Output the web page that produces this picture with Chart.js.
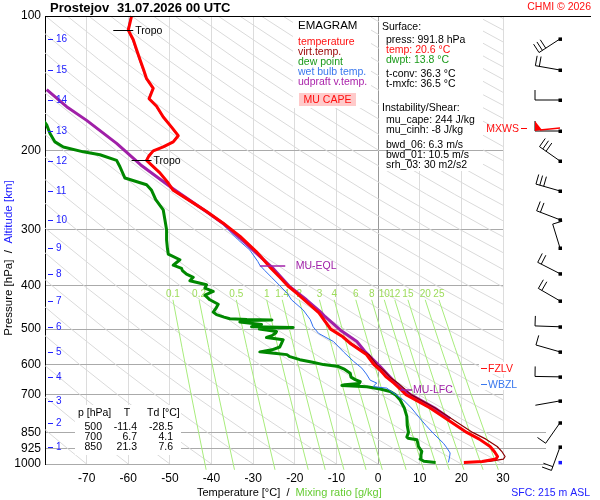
<!DOCTYPE html>
<html>
<head>
<meta charset="utf-8">
<script src="https://cdn.jsdelivr.net/npm/chart.js@4.4.1/dist/chart.umd.min.js"></script>
<style>
  html, body { margin: 0; padding: 0; background: #fff; }
</style>
</head>
<body>
<canvas id="graphic" width="600" height="500"></canvas>
<script>
// sounding values (pressure hPa / temperature degC)
const tempP = [991.8, 987, 975, 962, 940, 914, 880, 850, 800, 750, 700, 680, 660, 640, 620, 600, 570, 540, 520, 500, 480, 460, 440, 416, 400, 383, 365, 350, 336, 310, 290, 273, 255, 245, 236, 224, 216, 210, 205, 200, 196, 191, 185, 177, 168, 159, 153, 145, 138, 132, 125, 119, 113, 107.5, 100];
const tempT = [20.6, 25.0, 28.3, 28.7, 28.0, 26.9, 24.3, 21.3, 17.0, 12.5, 6.7, 5.3, 3.8, 2.0, 0.7, -1.0, -2.8, -6.5, -8.5, -11.4, -12.8, -14.2, -16.5, -19.5, -21.7, -23.6, -25.8, -27.5, -29.2, -33.2, -37.2, -41.2, -46.2, -49.2, -50.4, -52.4, -54.2, -55.6, -55.0, -54.0, -51.6, -49.2, -48.0, -49.6, -51.6, -53.2, -55.0, -54.0, -55.6, -56.3, -57.2, -58.0, -58.8, -60.0, -59.2];

const tvP = [991.8, 987, 975, 962, 940, 914, 880, 850, 800, 750, 700, 680, 660, 640, 620, 600, 570, 540, 520, 500, 460, 416];
const tvT = [22.4, 26.8, 30.1, 30.5, 29.8, 28.6, 25.9, 22.7, 18.3, 13.7, 7.9, 6.4, 4.8, 2.9, 1.5, -0.3, -2.2, -6.1, -8.3, -11.2, -14.1, -19.4];

const dewP = [991.8, 986, 975, 955, 937, 915, 895, 883, 876, 870, 850, 820, 783, 750, 720, 700, 689, 680, 672, 668, 665, 661, 655, 648, 640, 627, 615, 606, 600, 592, 585, 576, 570, 566, 562, 556, 548, 538, 528, 522, 517, 510, 506, 500, 497, 496, 494, 488, 482, 478, 477, 476, 474, 470, 464, 458, 450, 440, 430, 420, 412, 405, 398, 390, 383, 377, 370, 366, 360, 350, 340, 330, 316, 300, 285, 271, 257, 245, 238, 230, 217, 210, 204, 201, 196, 191, 183, 175, 168];
const dewT = [13.8, 11.0, 10.1, 10.3, 10.5, 9.7, 9.5, 9.3, 7.2, 6.9, 7.3, 7.0, 6.9, 6.3, 5.3, 4.1, 2.9, 0.5, -2.7, -8.7, -8.0, -4.5, -4.3, -5.5, -6.5, -6.7, -8.0, -9.5, -13.1, -16.0, -18.8, -21.2, -21.9, -25.0, -28.4, -25.5, -23.6, -23.2, -22.8, -26.8, -25.5, -24.6, -24.4, -28.5, -27.6, -20.4, -30.4, -28.0, -33.2, -31.0, -25.5, -31.5, -35.6, -37.0, -38.8, -39.6, -39.0, -38.4, -40.4, -41.6, -39.6, -41.6, -41.2, -45.2, -44.4, -46.0, -47.0, -47.2, -49.2, -47.6, -50.4, -50.6, -50.8, -50.8, -51.2, -51.6, -53.4, -54.4, -55.6, -60.8, -62.0, -62.8, -66.8, -70.8, -75.6, -77.6, -78.8, -79.6, -81.0];

const wbP = [991.8, 960, 945, 920, 899, 855, 820, 792, 750, 720, 700, 685, 677, 672, 665, 660, 650, 630, 611, 590, 562, 533, 511, 494, 476, 453, 430, 416, 400, 383, 370, 360, 353, 333, 316, 300, 290, 273, 245, 236, 224, 216, 210, 205, 200, 196, 191, 185, 177, 168, 159, 153, 145, 138, 132, 125, 119, 113, 107.5, 100];
const wbT = [16.9, 17.2, 17.3, 16.5, 15.7, 13.3, 11.5, 10.1, 8.0, 6.1, 4.3, 2.8, 2.1, -1.1, -0.8, -0.3, -1.9, -2.8, -3.9, -5.9, -8.3, -10.7, -14.3, -15.6, -16.3, -18.0, -20.8, -21.8, -23.6, -25.6, -27.2, -28.4, -28.9, -30.8, -33.6, -36.0, -37.6, -41.6, -49.4, -50.6, -52.6, -54.4, -55.8, -55.2, -54.2, -51.8, -49.4, -48.2, -49.8, -51.8, -53.4, -55.2, -54.2, -55.8, -56.5, -57.4, -58.2, -59.0, -60.2, -59.4];

// most unstable parcel (updraft virtual temperature)
const upP = [792, 750, 700, 684, 650, 606, 560, 533, 502, 469, 457, 430, 402, 366, 340, 313, 290, 273.5, 242, 215, 192.5, 171, 159.4, 146];
const upT = [17.3, 13.6, 7.8, 6.1, 3.6, 0.5, -3.2, -5.1, -9.1, -12.7, -13.9, -17.2, -21.2, -25.2, -29.0, -33.2, -37.3, -41.2, -49.5, -57.0, -62.8, -70.0, -74.8, -79.6];

const lfcP = 684, eqlP = 362, fzlvP = 610, wbzlP = 663, sfcP = 991.8;
const tropoP = [107.5, 209.7];
const tropoT = [-60.0, -55.6];

// axes
const pTicks = [100, 200, 300, 400, 500, 600, 700, 850, 925, 1000];
const altKm = [1, 2, 3, 4, 5, 6, 7, 8, 9, 10, 11, 12, 13, 14, 15, 16];
const altP = [916, 809, 723, 639, 562, 494, 432.5, 376, 329.5, 285, 245.8, 210.7, 180.6, 154, 132, 112.5];

// winds at each km (direction deg, speed in barb units: 10 = full barb)
const windDir = [200, 215, 260, 271, 286, 272, 300, 297, 343, 291, 286, 305, 270, 270, 280, 237];
const windSpd = [20, 10, 0, 10, 10, 10, 20, 20, 10, 20, 30, 30, 10, 10, 20, 30];
const maxWindKm = 13;

// background reference lines
const mixValues = [0.1, 0.2, 0.5, 1, 1.4, 2, 3, 4, 6, 8, 10, 12, 15, 20, 25];
const mixLevels = [1030, 1000, 850, 700, 550, 430];
const adiabatTheta = [-80, -70, -60, -50, -40, -30, -20, -10, 0, 10, 20, 30, 40, 50, 60, 70, 80, 90, 100, 110, 120, 130, 140, 150, 160, 170, 180, 190, 200, 210, 220, 230, 240, 250, 260, 270, 280, 290, 300, 310, 320];
const adiabatLevels = [1050, 1000, 925, 850, 700, 600, 500, 400, 300, 250, 200, 150, 125, 100];

const FONT = "'Liberation Sans', Arial, sans-serif";

function mixLineTemp(w, p) {
  const e = w * p / (622 + w);
  const l = Math.log(e / 6.112);
  return 243.5 * l / (17.67 - l);
}

function profile(label, p, t, color, width) {
  return {
    label: label,
    data: p.map((v, i) => ({ x: t[i], y: v })),
    borderColor: color,
    borderWidth: width,
    borderJoinStyle: 'round',
    pointRadius: 0,
    fill: false,
    clip: { left: 0, top: 2, right: 8, bottom: 4 }
  };
}

const datasets = [
  profile('temperature', tempP, tempT, '#ff0000', 3),
  profile('virt.temp.', tvP, tvT, '#8b0000', 1.2),
  profile('updraft', upP, upT, '#a020a8', 3),
  profile('wet bulb', wbP, wbT, '#2f6ff0', 1),
  profile('dew point', dewP, dewT, '#008800', 3)
];

// MU CAPE area between parcel and environment
const capeUp = upP.map((p, i) => ({ x: upT[i], y: p })).filter(d => d.y <= lfcP && d.y >= eqlP);
const capeEnv = tempP.map((p, i) => ({ x: tempT[i], y: p })).filter(d => d.y <= lfcP && d.y >= eqlP).reverse();
const capeIndex = datasets.length;
datasets.push({
  label: 'cape',
  data: capeUp.concat(capeEnv),
  borderColor: 'rgba(0,0,0,0)',
  borderWidth: 1,
  pointRadius: 0,
  backgroundColor: 'rgba(255,60,60,0.2)',
  fill: 'shape'
});

mixValues.forEach(w => {
  datasets.push({
    label: 'w' + w,
    data: mixLevels.map(p => ({ x: mixLineTemp(w, p), y: p })),
    borderColor: '#a8ec7c',
    borderWidth: 1,
    pointRadius: 0,
    fill: false,
    clip: { left: 0, top: 0, right: 0, bottom: 6 }
  });
});

adiabatTheta.forEach(th => {
  datasets.push({
    label: 'th' + th,
    data: adiabatLevels.map(p => ({ x: (th + 273.15) * Math.pow(p / 1000, 0.2857) - 273.15, y: p })),
    borderColor: '#dadada',
    borderWidth: 1,
    pointRadius: 0,
    fill: false
  });
});

function text(ctx, s, x, y, color, size, align, weight) {
  ctx.font = (weight || '') + ' ' + size + 'px ' + FONT;
  ctx.fillStyle = color;
  ctx.textAlign = align || 'left';
  ctx.textBaseline = 'middle';
  ctx.fillText(s, x, y);
}

function drawBarb(ctx, x, y, dir, spd) {
  const rad = dir * Math.PI / 180;
  const dx = Math.sin(rad), dy = -Math.cos(rad);
  const bx = -dy, by = dx;
  const L = 25;
  ctx.beginPath();
  ctx.moveTo(x, y);
  ctx.lineTo(x + dx * L, y + dy * L);
  let s = spd, pos = 0;
  while (s >= 7.5) {
    const px = x + dx * (L - pos * 4), py = y + dy * (L - pos * 4);
    ctx.moveTo(px, py);
    ctx.lineTo(px + bx * 10, py + by * 10);
    s -= 10; pos++;
  }
  if (s >= 2.5) {
    const px = x + dx * (L - pos * 4), py = y + dy * (L - pos * 4);
    ctx.moveTo(px, py);
    ctx.lineTo(px + bx * 5, py + by * 5);
  }
  ctx.stroke();
  ctx.fillRect(x - 1.5, y - 1.5, 3.5, 3.5);
}

const sketch = {
  id: 'sketch',
  beforeDatasetDraw(chart, args) {
    if (args.index !== capeIndex) return;
    const ctx = chart.ctx, xs = chart.scales.x, ys = chart.scales.y;
    ctx.save();
    // mixing ratio labels
    mixValues.forEach(w => {
      const x = xs.getPixelForValue(mixLineTemp(w, 430));
      text(ctx, String(w), x, ys.getPixelForValue(430) - 6, '#9ddc5a', 10, 'center');
    });
    // panels
    ctx.fillStyle = '#fff';
    ctx.fillRect(293, 17, 78, 91);
    ctx.fillRect(379, 17, 104, 154);
    ctx.fillRect(75, 405, 106, 50);
    ctx.save();
    ctx.beginPath();
    ctx.rect(379, 17, 104, 154);
    ctx.clip();
    ctx.strokeStyle = '#aaa';
    ctx.lineWidth = 1;
    pTicks.forEach(p => {
      const y = Math.floor(ys.getPixelForValue(p)) + 0.5;
      ctx.beginPath(); ctx.moveTo(379, y); ctx.lineTo(483, y); ctx.stroke();
    });
    ctx.restore();

    // legend panel
    text(ctx, 'EMAGRAM', 298, 26, '#000', 11.5);
    text(ctx, 'temperature', 298, 42, '#ff1010', 10.5);
    text(ctx, 'virt.temp.', 298, 52, '#990000', 10.5);
    text(ctx, 'dew point', 298, 62, '#1a9a1a', 10.5);
    text(ctx, 'wet bulb temp.', 298, 72, '#3a78ee', 10.5);
    text(ctx, 'udpraft v.temp.', 298, 82, '#aa22aa', 10.5);
    ctx.fillStyle = 'rgba(255,80,80,0.3)';
    ctx.fillRect(299, 93, 57, 13);
    text(ctx, 'MU CAPE', 327.5, 100, '#ff1010', 10.5, 'center');

    // surface / instability panel
    text(ctx, 'Surface:', 382, 27, '#000', 10.5);
    text(ctx, 'press: 991.8 hPa', 386, 40, '#000', 10.5);
    text(ctx, 'temp: 20.6 \u00b0C', 386, 50, '#ff1010', 10.5);
    text(ctx, 'dwpt: 13.8 \u00b0C', 386, 60, '#1a9a1a', 10.5);
    text(ctx, 't-conv: 36.3 \u00b0C', 386, 74, '#000', 10.5);
    text(ctx, 't-mxfc: 36.5 \u00b0C', 386, 84, '#000', 10.5);
    text(ctx, 'Instability/Shear:', 382, 108, '#000', 10.5);
    text(ctx, 'mu_cape: 244 J/kg', 386, 120, '#000', 10.5);
    text(ctx, 'mu_cinh: -8 J/kg', 386, 130, '#000', 10.5);
    text(ctx, 'bwd_06: 6.3 m/s', 386, 145, '#000', 10.5);
    text(ctx, 'bwd_01: 10.5 m/s', 386, 155, '#000', 10.5);
    text(ctx, 'srh_03: 30 m2/s2', 386, 165, '#000', 10.5);

    // standard level table
    text(ctx, 'p [hPa]', 78, 413, '#000', 10.5);
    text(ctx, 'T', 127, 413, '#000', 10.5, 'center');
    text(ctx, 'Td [\u00b0C]', 147, 413, '#000', 10.5);
    const rows = [['500', '-11.4', '-28.5'], ['700', '6.7', '4.1'], ['850', '21.3', '7.6']];
    rows.forEach((r, i) => {
      const y = 427 + i * 10;
      text(ctx, r[0], 102, y, '#000', 10.5, 'right');
      text(ctx, r[1], 137, y, '#000', 10.5, 'right');
      text(ctx, r[2], 173, y, '#000', 10.5, 'right');
    });
    ctx.restore();
  },
  afterDatasetsDraw(chart) {
    const ctx = chart.ctx, xs = chart.scales.x, ys = chart.scales.y;
    ctx.save();
    ctx.lineWidth = 1;
    // tropopause marks
    tropoP.forEach((p, i) => {
      const x = xs.getPixelForValue(tropoT[i]), y = Math.round(ys.getPixelForValue(p)) + 0.5;
      ctx.strokeStyle = '#000';
      ctx.beginPath(); ctx.moveTo(x - 15, y); ctx.lineTo(x + 5, y); ctx.stroke();
      text(ctx, 'Tropo', x + 7, y + 1, '#000', 10.5);
    });
    // parcel levels
    ctx.strokeStyle = '#a020a8';
    ctx.lineWidth = 1.5;
    let y = Math.round(ys.getPixelForValue(eqlP));
    ctx.beginPath(); ctx.moveTo(xs.getPixelForValue(-28.4), y); ctx.lineTo(xs.getPixelForValue(-22.3), y); ctx.stroke();
    text(ctx, 'MU-EQL', xs.getPixelForValue(-19.8), y, '#a020a8', 10.5);
    y = Math.round(ys.getPixelForValue(lfcP));
    ctx.beginPath(); ctx.moveTo(xs.getPixelForValue(5.3), y); ctx.lineTo(xs.getPixelForValue(8.2), y); ctx.stroke();
    text(ctx, 'MU-LFC', xs.getPixelForValue(8.4), y, '#a020a8', 10.5);

    // freezing / wet bulb zero levels
    [[fzlvP, 'FZLV', '#ff1010'], [wbzlP, 'WBZL', '#3a78ee']].forEach(l => {
      const yy = Math.round(ys.getPixelForValue(l[0]));
      ctx.fillStyle = 'rgba(255,255,255,0.95)';
      ctx.fillRect(479, yy - 6, 43, 12);
      ctx.strokeStyle = l[2];
      ctx.lineWidth = 1;
      ctx.beginPath(); ctx.moveTo(481, yy + 0.5); ctx.lineTo(487, yy + 0.5); ctx.stroke();
      text(ctx, l[1], 488, yy + 1, l[2], 10.5);
    });

    // altitude scale
    ctx.strokeStyle = '#2020ff';
    altKm.forEach((km, i) => {
      const yy = Math.round(ys.getPixelForValue(altP[i])) + 0.5;
      ctx.beginPath(); ctx.moveTo(48, yy); ctx.lineTo(53, yy); ctx.stroke();
      text(ctx, String(km), 56, yy, '#2020ff', 10);
    });
    ctx.restore();
  },
  afterDraw(chart) {
    const ctx = chart.ctx, ys = chart.scales.y, area = chart.chartArea;
    ctx.save();
    // frame line on top
    ctx.strokeStyle = '#000';
    ctx.lineWidth = 1;
    ctx.beginPath(); ctx.moveTo(area.left, area.top + 0.5); ctx.lineTo(591, area.top + 0.5); ctx.stroke();
    // low level lines reaching the wind column
    ctx.strokeStyle = '#aaa';
    [850, 925, 1000].forEach(p => {
      const y = Math.floor(ys.getPixelForValue(p)) + 0.5;
      ctx.beginPath(); ctx.moveTo(area.right, y); ctx.lineTo(546, y); ctx.stroke();
    });

    // titles
    text(ctx, 'Prostejov', 50, 8, '#000', 13, 'left', 'bold');
    text(ctx, '31.07.2026 00 UTC', 117, 8, '#000', 13, 'left', 'bold');
    text(ctx, 'CHMI \u00a9 2026', 591, 7, '#ff1010', 10.5, 'right');
    text(ctx, 'SFC: 215 m ASL', 590, 493, '#2020ff', 10.5, 'right');

    // x axis title
    let x = 197;
    [['Temperature [\u00b0C]', '#000'], ['  /  ', '#000'], ['Mixing ratio [g/kg]', '#66cc33']].forEach(part => {
      text(ctx, part[0], x, 493, part[1], 11);
      x += ctx.measureText(part[0]).width;
    });

    // y axis title (rotated)
    ctx.save();
    ctx.translate(9, 258);
    ctx.rotate(-Math.PI / 2);
    const parts = [['Pressure [hPa]', '#000'], ['  /  ', '#000'], ['Altitude [km]', '#2020ff']];
    ctx.font = '11.5px ' + FONT;
    const total = parts.reduce((s, p) => s + ctx.measureText(p[0]).width, 0);
    x = -total / 2;
    parts.forEach(part => {
      text(ctx, part[0], x, 0, part[1], 11.5);
      x += ctx.measureText(part[0]).width;
    });
    ctx.restore();

    // wind barbs
    const bx = area.right + 57;
    ctx.strokeStyle = '#000';
    ctx.fillStyle = '#000';
    ctx.lineWidth = 1;
    altKm.forEach((km, i) => {
      drawBarb(ctx, bx, ys.getPixelForValue(altP[i]), windDir[i], windSpd[i]);
    });
    // maximum wind marker
    const mi = altKm.indexOf(maxWindKm);
    const my = ys.getPixelForValue(altP[mi]);
    ctx.strokeStyle = '#ff0000';
    ctx.fillStyle = '#ff0000';
    ctx.lineWidth = 1.5;
    ctx.beginPath(); ctx.moveTo(bx - 20, my - 1); ctx.lineTo(bx, my - 3); ctx.stroke();
    ctx.beginPath(); ctx.moveTo(bx - 25, my - 10); ctx.lineTo(bx - 25, my); ctx.lineTo(bx - 18, my - 1); ctx.closePath(); ctx.fill();
    ctx.lineWidth = 1;
    ctx.beginPath(); ctx.moveTo(521, my - 2.5); ctx.lineTo(527, my - 2.5); ctx.stroke();
    text(ctx, 'MXWS', 519, my - 2, '#ff1010', 10.5, 'right');
    // surface dot
    ctx.fillStyle = '#1a1aff';
    ctx.fillRect(bx - 1.5, ys.getPixelForValue(sfcP) - 1.5, 3.5, 3.5);
    ctx.restore();
  }
};

Chart.defaults.font.family = FONT;

new Chart(document.getElementById('graphic').getContext('2d'), {
  type: 'line',
  data: { datasets: datasets },
  options: {
    responsive: false,
    animation: false,
    events: [],
    layout: { padding: { left: 0, top: 16, right: 97, bottom: 0 } },
    plugins: {
      legend: { display: false },
      tooltip: { enabled: false }
    },
    scales: {
      x: {
        type: 'linear',
        min: -80,
        max: 30,
        afterFit: s => { s.height = 36; },
        ticks: {
          stepSize: 10,
          autoSkip: false,
          maxRotation: 0,
          padding: 7,
          color: '#000',
          font: { size: 12 },
          callback: v => (v === -80 ? '' : String(v))
        },
        grid: {
          drawTicks: false,
          color: c => (c.tick && c.tick.value === 0 ? '#999' : '#dcdcdc')
        },
        border: { display: false }
      },
      y: {
        type: 'logarithmic',
        min: 100,
        max: 1000,
        reverse: true,
        afterBuildTicks: s => { s.ticks = pTicks.map(v => ({ value: v })); },
        afterFit: s => { s.width = 45; },
        ticks: {
          autoSkip: false,
          padding: 4,
          color: '#000',
          font: { size: 12 },
          callback: v => String(v)
        },
        grid: { drawTicks: false, color: '#aaa' },
        border: { color: '#000', width: 1 }
      }
    }
  },
  plugins: [sketch]
});
</script>
</body>
</html>
